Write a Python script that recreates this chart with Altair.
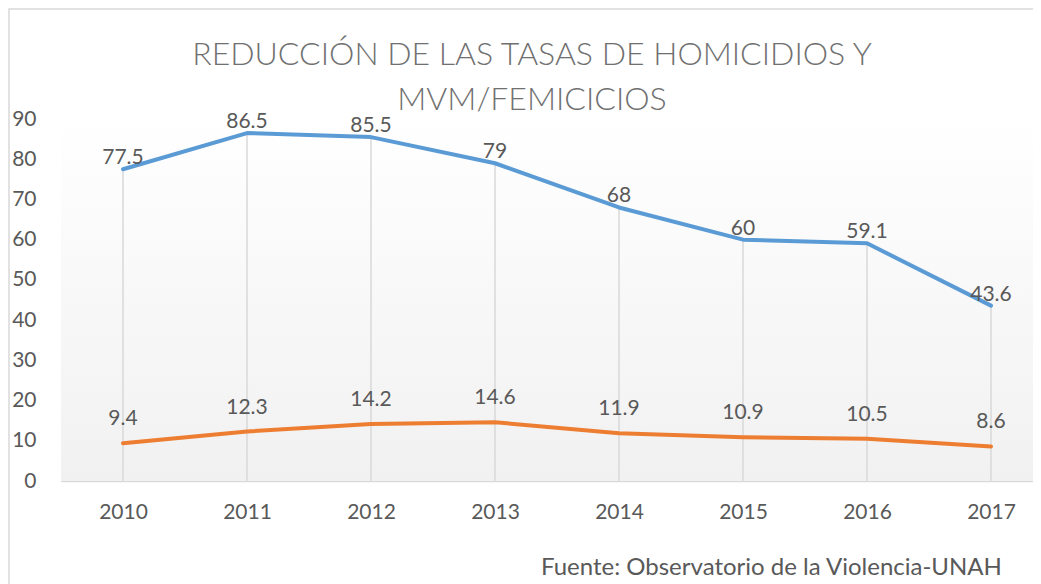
import altair as alt
import pandas as pd

years = ["2010", "2011", "2012", "2013", "2014", "2015", "2016", "2017"]
homicidios = [77.5, 86.5, 85.5, 79, 68, 60, 59.1, 43.6]
femicidios = [9.4, 12.3, 14.2, 14.6, 11.9, 10.9, 10.5, 8.6]
series_names = ["Homicidios", "MVM/Femicidios"]
series_colors = ["#5B9BD5", "#ED7D31"]
y_ticks = [0, 10, 20, 30, 40, 50, 60, 70, 80, 90]
title_lines = ["REDUCCIÓN DE LAS TASAS DE HOMICIDIOS Y", "MVM/FEMICICIOS"]
source_text = "Fuente: Observatorio de la Violencia-UNAH"

FONT = "Lato"
TXT = "#595959"
W, H = 972, 362      # visible plot area (page is cut at the right edge)
XR = 992             # full category span, partly beyond the page edge

long_df = pd.DataFrame({
    "year": years * 2,
    "value": homicidios + femicidios,
    "series": [series_names[0]] * len(years) + [series_names[1]] * len(years),
})
drop_df = pd.DataFrame({"year": years, "top": homicidios})

x_enc = alt.X("year:O", scale=alt.Scale(type="point", padding=0.5, range=[0, XR]), sort=years,
              axis=alt.Axis(title=None, labelAngle=0, ticks=False, grid=False,
                            domainColor="#D9D9D9", domainWidth=1.5,
                            labelFont=FONT, labelFontSize=21, labelColor=TXT,
                            labelPadding=20))
y_scale = alt.Scale(domain=[0, 90], nice=False, zero=True)
y_axis = alt.Axis(title=None, values=y_ticks, domain=False, ticks=False, grid=False,
                  labelFont=FONT, labelFontSize=21, labelColor=TXT, labelPadding=25)
color_enc = alt.Color("series:N", scale=alt.Scale(domain=series_names, range=series_colors),
                      legend=None)

one = pd.DataFrame({"f": [0]})

frame = alt.Chart(one).mark_rect(
    fillOpacity=0, stroke="#D9D9D9", strokeWidth=1.5
).encode(x=alt.value(-52), x2=alt.value(1100), y=alt.value(-110), y2=alt.value(600))

bg = alt.Chart(one).mark_rect(
    color=alt.LinearGradient(
        gradient="linear", x1=0, y1=0, x2=0, y2=1,
        stops=[alt.GradientStop(offset=0, color="#FFFFFF"),
               alt.GradientStop(offset=1, color="#F1F1F1")])
).encode(x=alt.value(0), x2=alt.value(XR), y=alt.value(0), y2=alt.value(H))

title = alt.Chart(one).mark_text(
    font=FONT, fontSize=32, fontWeight=300, color="#707070", align="center",
    baseline="middle", lineHeight=45
).encode(x=alt.value(471), y=alt.value(-64), text=alt.value(title_lines))

drops = alt.Chart(drop_df).mark_rule(color="#D9D9D9", strokeWidth=1.5).encode(
    x=x_enc,
    y=alt.Y("top:Q", scale=y_scale, axis=y_axis),
    y2=alt.datum(0),
)

lines = alt.Chart(long_df).mark_line(strokeWidth=4, strokeJoin="round", strokeCap="round").encode(
    x=x_enc, y=alt.Y("value:Q", scale=y_scale, axis=y_axis), color=color_enc,
)

labels_h = alt.Chart(long_df).transform_filter(
    alt.datum.series == series_names[0]
).mark_text(font=FONT, fontSize=21, color=TXT, dy=-11, baseline="middle").encode(
    x=x_enc, y=alt.Y("value:Q", scale=y_scale), text=alt.Text("value:Q"),
)
labels_f = alt.Chart(long_df).transform_filter(
    alt.datum.series == series_names[1]
).mark_text(font=FONT, fontSize=21, color=TXT, dy=-24, baseline="middle").encode(
    x=x_enc, y=alt.Y("value:Q", scale=y_scale), text=alt.Text("value:Q"),
)

source = alt.Chart(pd.DataFrame({"t": [source_text]})).mark_text(
    font=FONT, fontSize=24, color=TXT, align="left", baseline="middle"
).encode(x=alt.value(480), y=alt.value(449), text="t:N")

chart = alt.layer(frame, bg, title, drops, lines, labels_h, labels_f, source).properties(
    width=W, height=H,
    autosize=alt.AutoSizeParams(type="none"),
    padding={"left": 53, "top": 111, "right": 0, "bottom": 110},
).configure_view(
    stroke="transparent",
).configure(background="white")

chart.save("out.html", embed_options={"renderer": "svg", "actions": False})
